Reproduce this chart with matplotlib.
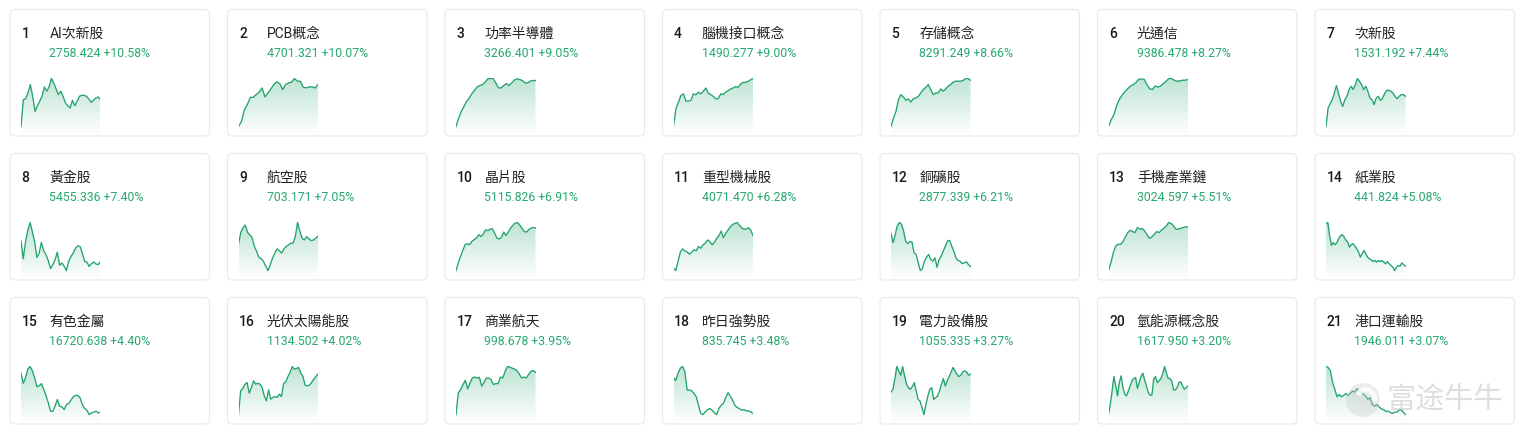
import numpy as np
import matplotlib
matplotlib.use("Agg")
import matplotlib.pyplot as plt
from matplotlib.patches import FancyBboxPatch, Circle, Wedge
from matplotlib.colors import to_rgb

# ---------------- data ----------------
ranks = list(range(1, 22))
names = ["AI次新股", "PCB概念", "功率半導體", "腦機接口概念", "存儲概念", "光通信", "次新股",
         "黃金股", "航空股", "晶片股", "重型機械股", "銅礦股", "手機產業鏈", "紙業股",
         "有色金屬", "光伏太陽能股", "商業航天", "昨日強勢股", "電力設備股", "氫能源概念股", "港口運輸股"]
prices = [2758.424, 4701.321, 3266.401, 1490.277, 8291.249, 9386.478, 1531.192,
          5455.336, 703.171, 5115.826, 4071.470, 2877.339, 3024.597, 441.824,
          16720.638, 1134.502, 998.678, 835.745, 1055.335, 1617.950, 1946.011]
changes = [10.58, 10.07, 9.05, 9.00, 8.66, 8.27, 7.44,
           7.40, 7.05, 6.91, 6.28, 6.21, 5.51, 5.08,
           4.40, 4.02, 3.95, 3.48, 3.27, 3.20, 3.07]

# intraday sparkline shapes (relative levels)
trend_01 = [0, 80, 83, 100, 125, 90, 45, 62, 75, 90, 118, 105, 118, 143, 130, 112, 95, 105, 90, 70,
            62, 55, 78, 62, 75, 90, 93, 93, 90, 82, 72, 78, 85, 88, 80]
trend_02 = [0, 15, 50, 65, 87, 87, 95, 102, 115, 88, 100, 112, 125, 133, 128, 110, 125, 130, 132, 143,
            135, 135, 117, 115, 118, 118, 115, 125]
trend_03 = [0, 25, 45, 60, 75, 85, 98, 108, 118, 122, 125, 132, 142, 143, 143, 130, 115, 115, 122, 128,
            122, 130, 138, 142, 140, 137, 130, 130, 135, 137, 137]
trend_04 = [0, 55, 75, 95, 100, 78, 78, 80, 100, 97, 105, 100, 108, 118, 102, 98, 92, 85, 85, 100,
            98, 105, 110, 115, 118, 122, 120, 130, 135, 135, 138, 143, 147]
trend_05 = [0, 25, 45, 80, 95, 88, 78, 82, 73, 83, 85, 90, 100, 110, 117, 125, 110, 95, 100, 100,
            112, 105, 112, 120, 125, 132, 135, 135, 135, 137, 143, 143, 138]
trend_06 = [0, 20, 35, 62, 80, 92, 102, 110, 118, 122, 128, 138, 138, 138, 122, 110, 108, 118, 115, 118,
            125, 132, 140, 140, 135, 132, 133, 135, 135, 137]
trend_07 = [0, 55, 68, 80, 100, 122, 98, 75, 60, 80, 90, 110, 120, 110, 125, 143, 135, 125, 110, 120,
            105, 85, 80, 65, 85, 90, 78, 83, 98, 108, 108, 105, 100, 90, 83, 90, 95, 95, 90]
trend_08 = [90, 36, 88, 123, 146, 118, 88, 40, 53, 86, 60, 48, 30, 6, 18, 33, 56, 16, 23, 13,
            0, 28, 43, 53, 68, 75, 73, 53, 28, 26, 13, 21, 26, 20, 18, 28]
trend_09 = [80, 116, 130, 138, 116, 108, 100, 73, 58, 40, 36, 28, 13, 0, 18, 38, 53, 66, 60, 53,
            66, 73, 78, 83, 83, 103, 146, 120, 98, 93, 103, 96, 91, 93, 98, 105]
trend_10 = [0, 23, 43, 60, 78, 81, 78, 88, 93, 98, 108, 103, 110, 123, 120, 125, 126, 113, 98, 95,
            100, 116, 106, 116, 128, 136, 143, 145, 138, 128, 118, 116, 123, 128, 130, 128]
trend_11 = [8, 0, 28, 56, 66, 60, 56, 50, 56, 63, 60, 73, 68, 78, 83, 93, 88, 78, 86, 98,
            106, 120, 100, 113, 123, 133, 140, 143, 146, 138, 130, 126, 126, 130, 123, 106]
trend_12 = [110, 83, 106, 133, 143, 138, 118, 88, 80, 86, 86, 53, 48, 23, 0, 6, 28, 40, 48, 33,
            28, 38, 10, 33, 43, 58, 73, 88, 90, 73, 58, 38, 30, 28, 21, 23, 26, 18, 12]
trend_13 = [0, 23, 53, 73, 78, 78, 86, 100, 113, 120, 116, 113, 128, 123, 125, 118, 106, 96, 100, 108,
            116, 113, 120, 126, 133, 143, 140, 133, 123, 123, 126, 128, 130, 130]
trend_14 = [143, 146, 108, 78, 86, 80, 86, 98, 106, 110, 103, 93, 88, 73, 80, 83, 76, 68, 58, 43,
            53, 63, 53, 43, 38, 35, 30, 33, 28, 33, 30, 33, 28, 23, 30, 23, 18, 13, 3, 13,
            18, 16, 26, 20, 16]
trend_15 = [124, 94, 111, 136, 144, 131, 111, 84, 86, 93, 76, 58, 36, 11, 11, 26, 46, 26, 24, 16,
            31, 34, 44, 54, 58, 58, 51, 31, 19, 14, 1, 6, 8, 11, 6, 9]
trend_16 = [0, 71, 78, 91, 96, 64, 81, 101, 91, 94, 91, 81, 56, 41, 74, 46, 51, 54, 51, 61,
            54, 94, 98, 114, 126, 144, 136, 138, 141, 124, 114, 88, 86, 88, 96, 106, 114, 121]
trend_17 = [0, 66, 76, 91, 104, 78, 96, 111, 114, 111, 113, 86, 98, 111, 111, 106, 91, 94, 94, 114,
            111, 131, 146, 144, 141, 138, 134, 124, 111, 114, 111, 121, 131, 134, 128]
trend_18 = [114, 104, 126, 141, 146, 131, 76, 76, 74, 66, 56, 31, 6, 3, 11, 18, 21, 16, 8, 3,
            21, 31, 36, 54, 68, 58, 46, 31, 24, 21, 16, 18, 14, 14, 11, 6]
trend_19 = [68, 76, 108, 144, 131, 118, 144, 116, 91, 81, 76, 84, 96, 71, 46, 41, 21, 1, 31, 56,
            76, 81, 46, 51, 56, 71, 91, 108, 86, 101, 114, 128, 141, 131, 121, 114, 118, 128, 131, 128,
            118, 121]
trend_20 = [0, 31, 71, 114, 86, 56, 96, 116, 81, 61, 56, 71, 86, 101, 108, 111, 78, 96, 114, 124,
            104, 86, 66, 58, 58, 106, 114, 96, 101, 108, 121, 144, 126, 108, 108, 101, 74, 74, 81, 96,
            98, 86, 76, 81, 86]
trend_21 = [144, 141, 131, 96, 76, 54, 61, 54, 58, 64, 58, 64, 71, 68, 78, 71, 68, 61, 56, 46,
            51, 31, 26, 31, 24, 18, 16, 11, 11, 8, 4, 8, 8, 14, 16, 8, 1]

trends = [trend_01, trend_02, trend_03, trend_04, trend_05, trend_06, trend_07,
          trend_08, trend_09, trend_10, trend_11, trend_12, trend_13, trend_14,
          trend_15, trend_16, trend_17, trend_18, trend_19, trend_20, trend_21]

# ---------------- style / layout ----------------
W, H = 1524, 437
DPI = 100
GREEN_TEXT = "#26a872"
GREEN_LINE = "#22a36e"
LATIN_CJK = ["Roboto", "Noto Sans CJK TC", "DejaVu Sans"]

CARD_W, CARD_H = 199.5, 126.5
COL_X0, COL_STEP = 10.0, 217.5
ROW_Y0, ROW_STEP = 9.5, 144.0
NCOLS = 7

fig = plt.figure(figsize=(W / DPI, H / DPI), dpi=DPI)
fig.patch.set_facecolor("white")

bg = fig.add_axes([0, 0, 1, 1])
bg.set_xlim(0, W)
bg.set_ylim(H, 0)
bg.axis("off")


def px_axes(left, top, width, height):
    return fig.add_axes([left / W, 1 - (top + height) / H, width / W, height / H])


green_rgb = to_rgb(GREEN_LINE)
grad = np.zeros((256, 1, 4))
grad[..., 0] = green_rgb[0]
grad[..., 1] = green_rgb[1]
grad[..., 2] = green_rgb[2]
grad[..., 3] = np.linspace(0.30, 0.0, 256).reshape(-1, 1)

for i in range(21):
    r, c = divmod(i, NCOLS)
    cx = COL_X0 + c * COL_STEP
    cy = ROW_Y0 + r * ROW_STEP

    card = FancyBboxPatch((cx, cy), CARD_W, CARD_H,
                          boxstyle="round,pad=0,rounding_size=5",
                          facecolor="white", edgecolor="#e8e8e8", linewidth=0.8)
    bg.add_patch(card)

    bg.text(cx + 11.5, cy + 24, str(ranks[i]), fontsize=10, fontweight="medium",
            color="#1a1a1a", va="center", ha="left", family=LATIN_CJK)
    bg.text(cx + 39.3, cy + 24, names[i], fontsize=10, color="#222222",
            va="center", ha="left", family=LATIN_CJK)
    bg.text(cx + 39.3, cy + 44, f"{prices[i]:.3f} +{changes[i]:.2f}%", fontsize=8.8,
            color=GREEN_TEXT, va="center", ha="left", family=LATIN_CJK)

    # sparkline
    vals = np.asarray(trends[i], dtype=float)
    xs = np.arange(len(vals))
    top_px, line_h, fill_h = 68.5, 48.5, 57.0
    ax = px_axes(cx + 11, cy + top_px, 79.5, fill_h)
    ax.axis("off")
    ax.patch.set_alpha(0)
    vmin, vmax = vals.min(), vals.max()
    span = vmax - vmin
    ybot = vmin - span * (fill_h - line_h) / line_h
    ax.set_xlim(0, len(vals) - 1)
    ax.set_ylim(ybot, vmax + span * 0.01)
    poly = ax.fill_between(xs, vals, ybot, color="none", linewidth=0)
    im = ax.imshow(grad, aspect="auto", extent=[0, len(vals) - 1, ybot, vmax],
                   origin="upper", zorder=1, interpolation="bilinear")
    im.set_clip_path(poly.get_paths()[0], transform=ax.transData)
    ax.plot(xs, vals, color=GREEN_LINE, lw=0.95, zorder=2, solid_joinstyle="round")
    ax.set_xlim(0, len(vals) - 1)
    ax.set_ylim(ybot, vmax + span * 0.01)

# watermark (overlay)
wm = fig.add_axes([0, 0, 1, 1])
wm.set_xlim(0, W)
wm.set_ylim(H, 0)
wm.axis("off")
wm.patch.set_alpha(0)
wm.add_patch(Circle((1363, 400), 17, facecolor="#c8c8c8", alpha=0.35, edgecolor="none"))
wm.add_patch(Wedge((1366, 398), 11, 200, 20, width=5, facecolor="white", alpha=0.8, edgecolor="none"))
wm.text(1445, 401, "富途牛牛", fontsize=21, color="#c4c4c4", alpha=0.55,
        va="center", ha="center", family=["Noto Sans CJK SC", "DejaVu Sans"])

fig.savefig("out.png", dpi=DPI, facecolor="white")
